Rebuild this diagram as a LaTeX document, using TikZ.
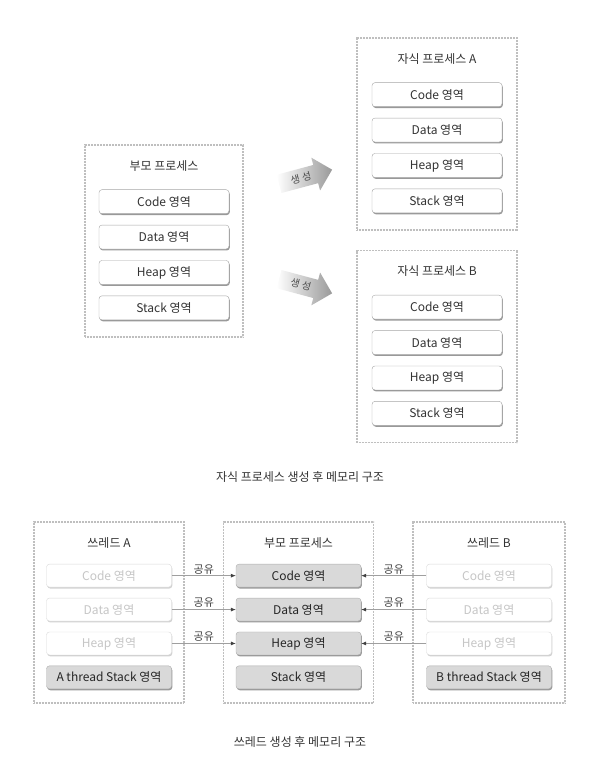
\documentclass[tikz,border=0pt]{standalone}
\usepackage{fontspec}
\setmainfont{Noto Sans CJK KR}
\usetikzlibrary{positioning,shapes.arrows,shadows,arrows.meta}

\tikzset{
  proc/.style={draw=gray!50, line width=1.9pt, dash pattern=on 1pt off 0.5pt, inner sep=0pt},
  ptitle/.style={font=\fontsize{12}{14}\selectfont, text=black!80, inner sep=0pt, text height=9pt, text depth=2pt},
  areabase/.style={rounded corners=3pt, inner sep=0pt, font=\fontsize{12}{14}\selectfont},
  area/.style={areabase, draw=gray!70, fill=white, text=black!80, minimum width=130pt, minimum height=24pt,
    drop shadow={shadow xshift=0.8pt, shadow yshift=-1.4pt, fill=gray!80, opacity=1}},
  sarea/.style={areabase, draw=gray!65, fill=gray!30, text=black!85, minimum width=125pt, minimum height=23pt,
    drop shadow={shadow xshift=0.8pt, shadow yshift=-1.4pt, fill=gray!80, opacity=1}},
  farea/.style={areabase, draw=gray!30, fill=white, text=gray!45, minimum width=125pt, minimum height=23pt,
    drop shadow={shadow xshift=0.8pt, shadow yshift=-1.4pt, fill=gray!35, opacity=1}},
  gen/.style={single arrow, draw=none, left color=white, right color=gray!80, inner sep=4pt,
    minimum width=34pt, minimum height=55pt, single arrow head extend=7pt,
    font=\fontsize{10}{12}\selectfont, text=black!70},
  share/.style={draw=gray!75, line width=0.6pt, -{Latex[length=5pt,width=4pt,black!75]}},
  lbl/.style={font=\fontsize{11}{13}\selectfont, text=black!75, inner sep=1.5pt},
  caption/.style={font=\fontsize{12}{14}\selectfont, text=black!80}
}

\begin{document}
\begin{tikzpicture}[x=1pt,y=-1pt]
  \useasboundingbox (0,0) rectangle (600,764);

  % Process creation
  \node[proc, minimum width=158pt, minimum height=192pt] (parent) at (164,241) {};
  \node[ptitle, below=17pt of parent.north] (tparent) {부모 프로세스};
  \node[area, below=17pt of tparent] (pcode) {Code 영역};
  \node[area, below=11pt of pcode]   (pdata) {Data 영역};
  \node[area, below=11pt of pdata]   (pheap) {Heap 영역};
  \node[area, below=11pt of pheap]   (pstack) {Stack 영역};

  \node[proc, minimum width=160pt, minimum height=192pt] (childa) at (437,134) {};
  \node[ptitle, below=17pt of childa.north] (tchilda) {자식 프로세스 A};
  \node[area, below=17pt of tchilda] (acode) {Code 영역};
  \node[area, below=11pt of acode]   (adata) {Data 영역};
  \node[area, below=11pt of adata]   (aheap) {Heap 영역};
  \node[area, below=11pt of aheap]   (astack) {Stack 영역};

  \node[proc, minimum width=160pt, minimum height=192pt] (childb) at (437,346.5) {};
  \node[ptitle, below=17pt of childb.north] (tchildb) {자식 프로세스 B};
  \node[area, below=17pt of tchildb] (bcode) {Code 영역};
  \node[area, below=11pt of bcode]   (bdata) {Data 영역};
  \node[area, below=11pt of bdata]   (bheap) {Heap 영역};
  \node[area, below=11pt of bheap]   (bstack) {Stack 영역};

  \node[gen, rotate=15]  (gena) at (301,178) {생\kern2.5pt성};
  \node[gen, rotate=-15] (genb) at (301,285) {생\kern2.5pt성};

  \node[caption] (cap1) at (300,477) {자식 프로세스 생성 후 메모리 구조};

  % Thread creation
  \node[proc, minimum width=150pt, minimum height=181pt] (thra) at (109,612.5) {};
  \node[ptitle, below=17pt of thra.north] (tthra) {쓰레드 A};
  \node[farea, below=14.5pt of tthra] (tacode) {Code 영역};
  \node[farea, below=10.5pt of tacode] (tadata) {Data 영역};
  \node[farea, below=10.5pt of tadata] (taheap) {Heap 영역};
  \node[sarea, below=10.5pt of taheap] (tastack) {A thread Stack 영역};

  \node[proc, minimum width=150pt, minimum height=181pt] (proc) at (298.5,612.5) {};
  \node[ptitle, below=17pt of proc.north] (tproc) {부모 프로세스};
  \node[sarea, below=14.5pt of tproc] (mcode) {Code 영역};
  \node[sarea, below=10.5pt of mcode] (mdata) {Data 영역};
  \node[sarea, below=10.5pt of mdata] (mheap) {Heap 영역};
  \node[sarea, below=10.5pt of mheap] (mstack) {Stack 영역};

  \node[proc, minimum width=152pt, minimum height=181pt] (thrb) at (489,612.5) {};
  \node[ptitle, below=17pt of thrb.north] (tthrb) {쓰레드 B};
  \node[farea, below=14.5pt of tthrb] (tbcode) {Code 영역};
  \node[farea, below=10.5pt of tbcode] (tbdata) {Data 영역};
  \node[farea, below=10.5pt of tbdata] (tbheap) {Heap 영역};
  \node[sarea, below=10.5pt of tbheap] (tbstack) {B thread Stack 영역};

  % Connect the nodes
  \draw[share] (tacode) -- node[lbl, above] {공유} (mcode);
  \draw[share] (tadata) -- node[lbl, above] {공유} (mdata);
  \draw[share] (taheap) -- node[lbl, above] {공유} (mheap);
  \draw[share] (tbcode) -- node[lbl, above] {공유} (mcode);
  \draw[share] (tbdata) -- node[lbl, above] {공유} (mdata);
  \draw[share] (tbheap) -- node[lbl, above] {공유} (mheap);

  \node[caption] (cap2) at (300,742) {쓰레드 생성 후 메모리 구조};
\end{tikzpicture}
\end{document}
